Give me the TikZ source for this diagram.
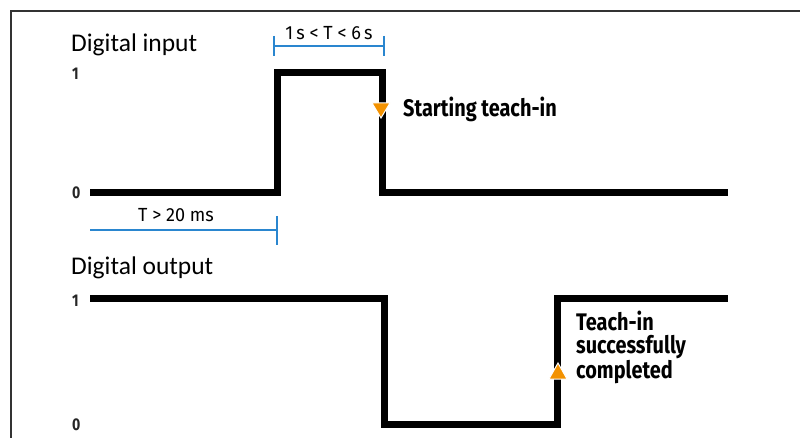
\documentclass[tikz,border=0pt]{standalone}
\usepackage{fontspec}
\setmainfont{Carlito}
\newfontfamily\condf[FakeStretch=0.83]{Fira Sans}
\newfontfamily\measf[FakeStretch=0.95]{Fira Sans}
\definecolor{dimblue}{HTML}{2A86CF}
\definecolor{teachorange}{HTML}{F39200}
\definecolor{framegray}{HTML}{333333}
\begin{document}
\begin{tikzpicture}[x=1pt,y=-1pt,
  wave/.style={line width=7pt, line join=miter, draw=black},
  dimline/.style={draw=dimblue, line width=2pt},
  tri/.style={fill=teachorange, draw=white, line width=1pt},
  head/.style={inner sep=0pt, anchor=base west, font=\fontsize{25.5}{28}\selectfont},
  lvl/.style={inner sep=0pt, anchor=base west, font=\condf\bfseries\fontsize{17}{20}\selectfont, text=black!85},
  meas/.style={inner sep=0pt, anchor=base, font=\measf\fontsize{19}{20}\selectfont},
  note/.style={inner sep=0pt, anchor=base west, align=left, font=\condf\bfseries\fontsize{24}{23}\selectfont}]
\useasboundingbox (0,0) rectangle (800,438);
\draw[framegray, line width=2pt] (11,438) -- (11,11) -- (800,11);

% headings and levels
\node[head] (hin) at (71,52) {Digital input};
\node[head] (hout) at (71,275) {Digital output};
\node[lvl] (in1) at (72,80) {1};
\node[lvl] (in0) at (72,199) {0};
\node[lvl] (out1) at (72,306) {1};
\node[lvl] (out0) at (72,430) {0};

% input waveform
\coordinate (a0) at (90,193);
\coordinate (a1) at (277,193);
\coordinate (a2) at (277,73);
\coordinate (a3) at (382,73);
\coordinate (a4) at (382,193);
\coordinate (a5) at (728,193);
\draw[wave] (a0) -- (a1) -- (a2) -- (a3) -- (a4) -- (a5);

% output waveform
\coordinate (b0) at (90,298);
\coordinate (b1) at (384,298);
\coordinate (b2) at (384,424);
\coordinate (b3) at (557,424);
\coordinate (b4) at (557,298);
\coordinate (b5) at (728,298);
\draw[wave] (b0) -- (b1) -- (b2) -- (b3) -- (b4) -- (b5);

% dimension 1 s < T < 6 s
\coordinate (d1) at (274,46);
\coordinate (d2) at (384,46);
\draw[dimline] (d1) -- (d2);
\draw[dimline] (274,36) -- (274,56);
\draw[dimline] (384,36) -- (384,56);
\node[meas] (tlong) at (329,40) {1\,s < T < 6\,s};

% dimension T > 20 ms
\coordinate (e1) at (90,230);
\coordinate (e2) at (277,230);
\draw[dimline] (e1) -- (e2);
\draw[dimline] (277,216) -- (277,245);
\node[meas] (tshort) at (176,222) {T > 20 ms};

% markers
\draw[tri] (372,103) -- (390,103) -- (381,118) -- cycle;
\draw[tri] (549,379) -- (567,379) -- (558,363) -- cycle;

\node[note] (start) at (403,117) {Starting teach-in};
\node[note] (done) at (576,378) {Teach-in\\successfully\\completed};
\end{tikzpicture}
\end{document}
